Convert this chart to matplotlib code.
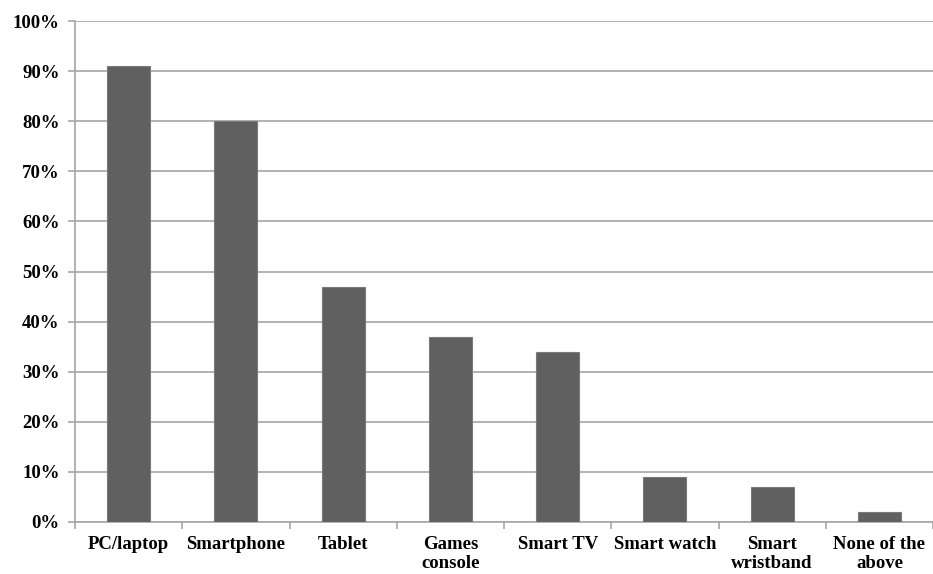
import numpy as np
import matplotlib
matplotlib.use('Agg')
import matplotlib.pyplot as plt
from matplotlib.ticker import FuncFormatter, FixedLocator

categories = ['PC/laptop', 'Smartphone', 'Tablet', 'Games\nconsole', 'Smart TV',
              'Smart watch', 'Smart\nwristband', 'None of the\nabove']
shares = [91, 80, 47, 37, 34, 9, 7, 2]

plt.rcParams['font.family'] = 'Liberation Serif'
plt.rcParams['font.weight'] = 'bold'

fig = plt.figure(figsize=(9.33, 5.74), dpi=100)
ax = fig.add_axes([0.0804, 0.0906, 0.9196, 0.8728])

x = np.arange(len(categories))
ax.bar(x, shares, width=0.4, color='#606060', edgecolor='#7a7a7a', linewidth=0.8, zorder=3)

ax.set_xlim(-0.5, len(categories) - 0.5)
ax.set_ylim(0, 100)
ax.set_yticks(np.arange(0, 101, 10))
ax.yaxis.set_major_formatter(FuncFormatter(lambda v, p: f'{int(v)}%'))
ax.grid(axis='y', color='#a6a6a6', linewidth=1.2, zorder=0)

# labels at bar centres, tick marks at category boundaries
ax.set_xticks(x)
ax.set_xticklabels(categories, fontsize=13.5, fontweight='bold', linespacing=1.15)
ax.tick_params(axis='x', which='major', length=0, pad=10)
ax.xaxis.set_minor_locator(FixedLocator(np.arange(-0.5, len(categories), 1.0)))
ax.tick_params(axis='x', which='minor', length=5, color='#a6a6a6', width=1.2)
ax.tick_params(axis='y', length=5, color='#a6a6a6', width=1.2, labelsize=13.5, pad=6)
for lbl in ax.get_yticklabels():
    lbl.set_fontweight('bold')

for s in ['top', 'right']:
    ax.spines[s].set_visible(False)
for s in ['left', 'bottom']:
    ax.spines[s].set_color('#a6a6a6')
    ax.spines[s].set_linewidth(1.2)

fig.savefig('out.png', dpi=100)
